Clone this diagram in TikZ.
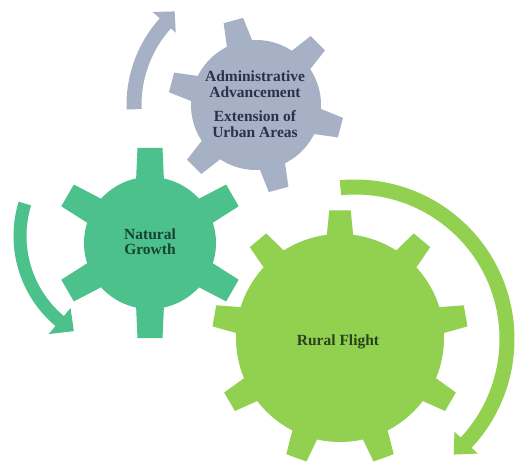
\documentclass[tikz,border=0pt]{standalone}
\usepackage{fontspec}
\setmainfont{Liberation Serif}
\definecolor{gearGray}{RGB}{167,177,197}
\definecolor{gearTeal}{RGB}{76,193,139}
\definecolor{gearGreen}{RGB}{146,208,80}
\definecolor{txtGray}{RGB}{40,50,74}
\definecolor{txtTeal}{RGB}{22,66,50}
\definecolor{txtGreen}{RGB}{40,66,30}
\begin{document}
\begin{tikzpicture}[x=1pt,y=1pt,
  lbl/.style={font=\fontsize{15.5}{16}\selectfont\bfseries, inner sep=0pt, anchor=base}]
\fill[white] (0,0) rectangle (515,467);
\useasboundingbox (0,0) rectangle (515,467);

% ---- arrows ----
\begin{scope}[shift={(256,362)}]
  \fill[gearGray] (182:114.5pt) arc[start angle=182, end angle=138, radius=114.5pt]
    -- (138:108pt) -- (131:124pt) -- (138:139pt) -- (138:129.5pt)
    arc[start angle=138, end angle=182, radius=129.5pt] -- cycle;
\end{scope}
\begin{scope}[shift={(131,231)}]
  \fill[gearTeal] (163:104.5pt) arc[start angle=163, end angle=230, radius=104.5pt]
    -- (230:94pt) -- (239:111pt) -- (230:128pt) -- (230:117.5pt)
    arc[start angle=230, end angle=163, radius=117.5pt] -- cycle;
\end{scope}
\begin{scope}[shift={(355,128)}]
  \fill[gearGreen] (95.5:144.5pt) arc[start angle=95.5, end angle=-43, radius=144.5pt]
    -- (-43:136pt) -- (-49.5:152pt) -- (-43:168pt) -- (-43:159.5pt)
    arc[start angle=-43, end angle=95.5, radius=159.5pt] -- cycle;
\end{scope}

% ---- gray gear ----
\begin{scope}[shift={(256,362)}]
  \fill[gearGray] (0,0) circle[radius=65pt];
  \foreach \a in {105,45,-15,-75,-135,165}
    \fill[gearGray] (\a-12.8:61pt) -- (\a-6.6:88pt) -- (\a+6.6:88pt) -- (\a+12.8:61pt) -- cycle;
\end{scope}

% ---- teal gear ----
\begin{scope}[shift={(150,224)}]
  \fill[gearTeal] (0,0) circle[radius=66pt];
  \foreach \a in {90,30,-30,-90,-150,150}
    \fill[gearTeal] (\a-13.1:62pt) -- (\a-7.5:96pt) -- (\a+7.5:96pt) -- (\a+13.1:62pt) -- cycle;
\end{scope}

% ---- green gear ----
\begin{scope}[shift={(340,129)}]
  \fill[gearGreen] (0,0) circle[radius=104pt];
  \foreach \a in {90,50,10,-30,-70,-110,-150,170,130}
    \fill[gearGreen] (\a-7.8:100pt) -- (\a-4.8:128pt) -- (\a+4.8:128pt) -- (\a+7.8:100pt) -- cycle;
\end{scope}

% ---- texts ----
\node[lbl, text=txtGray] (adm) at (255,385) {Administrative};
\node[lbl, text=txtGray] (adv) at (255,369) {Advancement};
\node[lbl, text=txtGray] (ext) at (255,345) {Extension of};
\node[lbl, text=txtGray] (urb) at (255,329) {Urban Areas};
\node[lbl, text=txtTeal] (nat) at (150,228) {Natural};
\node[lbl, text=txtTeal] (gro) at (150,212) {Growth};
\node[lbl, text=txtGreen] (rur) at (338,122) {Rural Flight};
\end{tikzpicture}
\end{document}
